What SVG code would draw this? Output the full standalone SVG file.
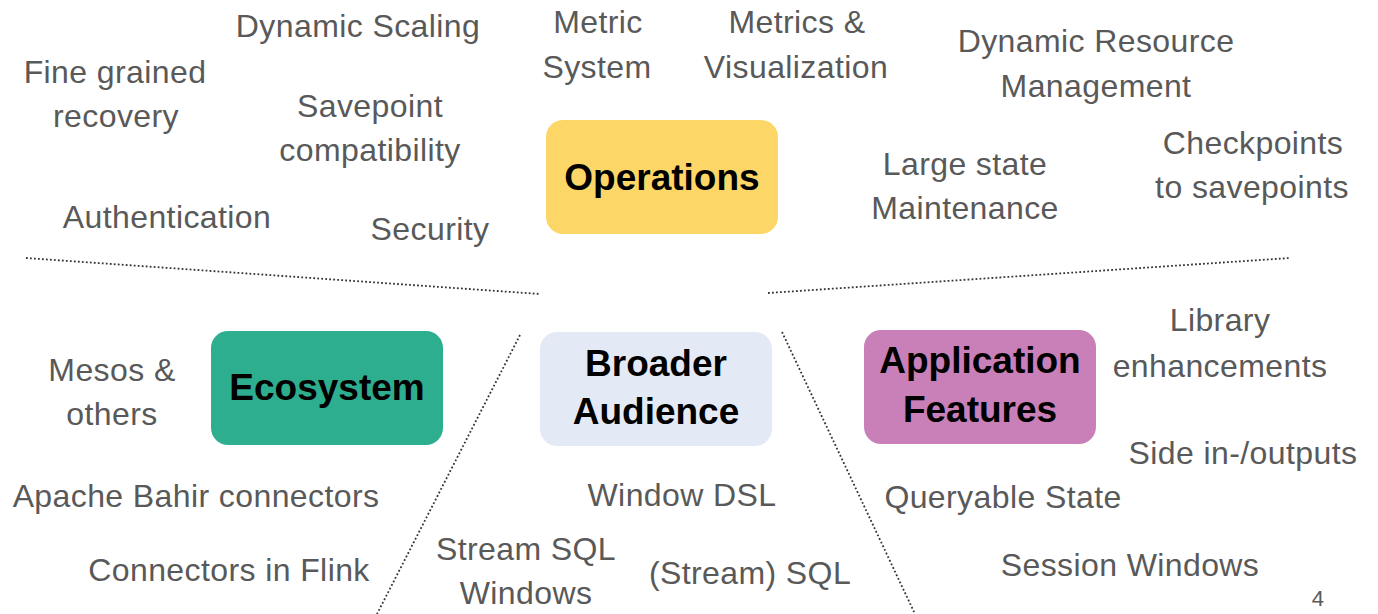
<svg xmlns="http://www.w3.org/2000/svg" width="1378" height="614" viewBox="0 0 1378 614">
  <style>
    .lbl { font-family: "Liberation Sans", Arial, sans-serif; font-size: 32px; letter-spacing: 0.4px; fill: #595959; text-anchor: middle; }
    .head { font-family: "Liberation Sans", Arial, sans-serif; font-size: 37px; font-weight: bold; fill: #000; text-anchor: middle; }
    .div { stroke: #333; stroke-width: 1.8; stroke-dasharray: 1.8 2.2; fill: none; }
  </style>
  <rect width="1378" height="614" fill="#fff"/>

  <!-- dotted dividers between the four areas -->
  <g id="connectors">
    <line class="div" x1="26" y1="258" x2="540" y2="294"/>
    <line class="div" x1="768" y1="293" x2="1290" y2="258"/>
    <line class="div" x1="520" y1="335" x2="377" y2="614"/>
    <line class="div" x1="782" y1="332" x2="915" y2="614"/>
  </g>

  <g id="operations">
    <rect x="546" y="120" width="232" height="114" rx="17" fill="#FCD768"/>
    <text class="head" x="662" y="190">Operations</text>
  </g>
  <g id="ecosystem">
    <rect x="211" y="331" width="232" height="114" rx="17" fill="#2DAE8E"/>
    <text class="head" x="327" y="400">Ecosystem</text>
  </g>
  <g id="broader-audience">
    <rect x="540" y="332" width="232" height="114" rx="17" fill="#E4E9F6"/>
    <text class="head" x="656" y="376">Broader</text>
    <text class="head" x="656" y="424">Audience</text>
  </g>
  <g id="application-features">
    <rect x="864" y="330" width="232" height="114" rx="17" fill="#C97FB8"/>
    <text class="head" x="980" y="373">Application</text>
    <text class="head" x="980" y="422">Features</text>
  </g>

  <!-- operations topics -->
  <g id="ops-topics">
    <text class="lbl" x="358" y="37">Dynamic Scaling</text>
    <text class="lbl" x="598" y="33">Metric</text>
    <text class="lbl" x="597" y="78">System</text>
    <text class="lbl" x="797" y="33">Metrics &amp;</text>
    <text class="lbl" x="796" y="78">Visualization</text>
    <text class="lbl" x="1096" y="52">Dynamic Resource</text>
    <text class="lbl" x="1096" y="97">Management</text>
    <text class="lbl" x="115" y="83">Fine grained</text>
    <text class="lbl" x="116" y="127">recovery</text>
    <text class="lbl" x="370" y="117">Savepoint</text>
    <text class="lbl" x="370" y="161">compatibility</text>
    <text class="lbl" x="965" y="175">Large state</text>
    <text class="lbl" x="965" y="219">Maintenance</text>
    <text class="lbl" x="1253" y="154">Checkpoints</text>
    <text class="lbl" x="1252" y="198">to savepoints</text>
    <text class="lbl" x="167" y="228">Authentication</text>
    <text class="lbl" x="430" y="240">Security</text>
  </g>

  <!-- ecosystem topics -->
  <g id="eco-topics">
    <text class="lbl" x="112" y="381">Mesos &amp;</text>
    <text class="lbl" x="112" y="425">others</text>
    <text class="lbl" x="196" y="507">Apache Bahir connectors</text>
    <text class="lbl" x="229" y="581">Connectors in Flink</text>
  </g>

  <!-- audience topics -->
  <g id="aud-topics">
    <text class="lbl" x="682" y="506">Window DSL</text>
    <text class="lbl" x="526" y="560">Stream SQL</text>
    <text class="lbl" x="526" y="604">Windows</text>
    <text class="lbl" x="750" y="584">(Stream) SQL</text>
  </g>

  <!-- application feature topics -->
  <g id="app-topics">
    <text class="lbl" x="1220" y="331">Library</text>
    <text class="lbl" x="1220" y="377">enhancements</text>
    <text class="lbl" x="1243" y="464">Side in-/outputs</text>
    <text class="lbl" x="1003" y="508">Queryable State</text>
    <text class="lbl" x="1130" y="576">Session Windows</text>
  </g>

  <!-- slide number -->
  <text class="lbl" x="1318" y="606" style="font-size:22px">4</text>
</svg>
